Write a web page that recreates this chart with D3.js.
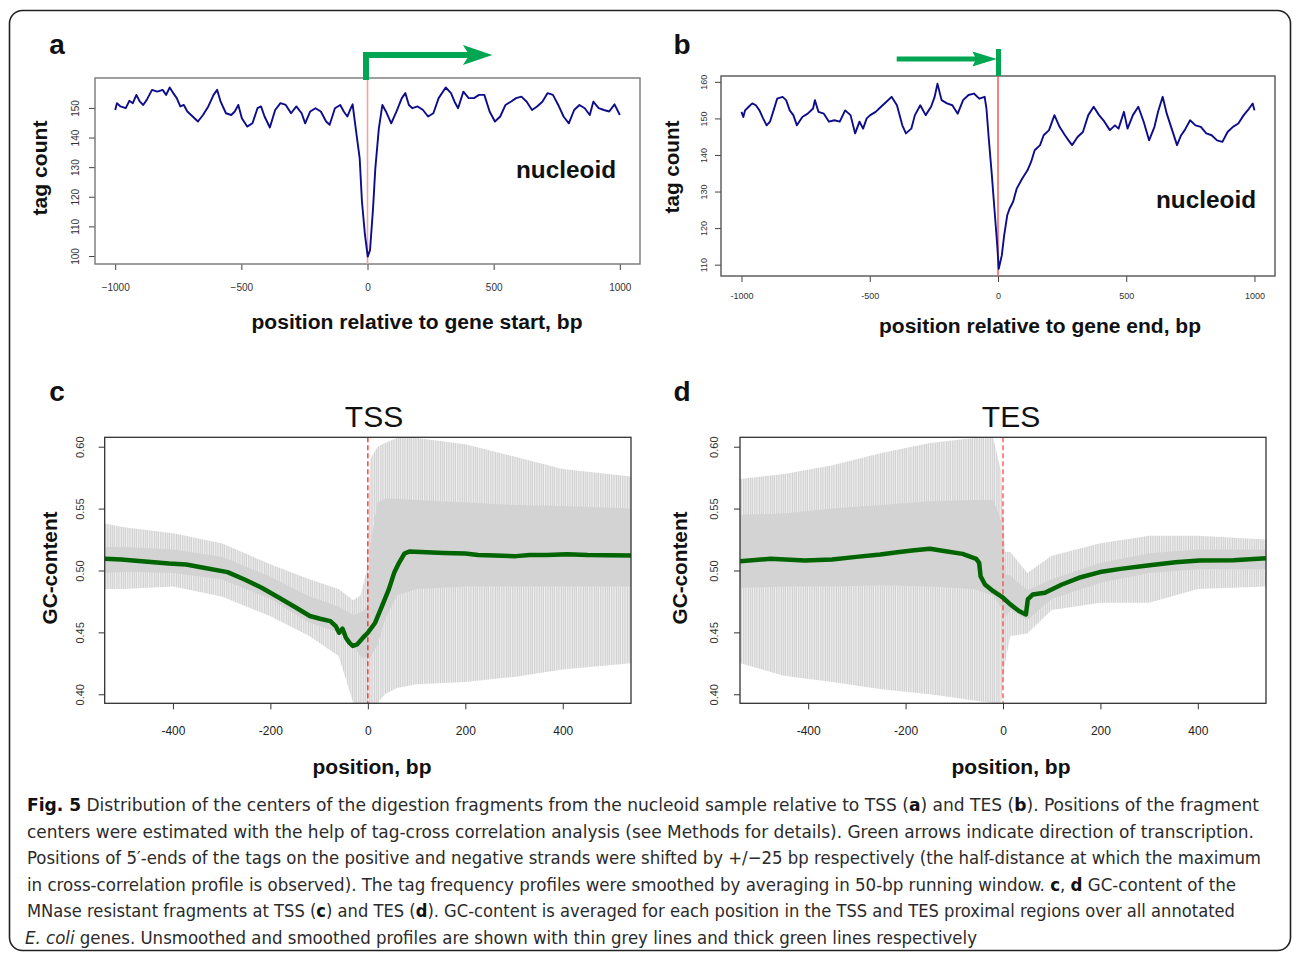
<!DOCTYPE html>
<html>
<head>
<meta charset="utf-8">
<script src="https://cdn.jsdelivr.net/npm/d3@7"></script>
<style>
  body { margin: 0; background: #fff; }
  text { font-family: "Liberation Sans", Arial, Helvetica, sans-serif; }
</style>
</head>
<body>
<div id="fig"></div>
<script>
// ---- data ----
// panel a: tag count around gene start
var posA = [-1000,-993,-979,-958,-944,-930,-916,-902,-889,-875,
  -854,-833,-812,-798,-784,-770,-756,-742,-728,-714,
  -693,-672,-652,-631,-610,-596,-582,-561,-540,-526,
  -512,-498,-477,-456,-436,-422,-408,-387,-366,-345,
  -324,-303,-282,-261,-247,-227,-206,-185,-164,-150,
  -129,-108,-94,-80,-66,-59,-45,-31,-22,-10,
  1,10,22,31,45,59,73,94,115,136,
  150,164,178,199,220,240,261,282,310,331,
  345,359,380,401,422,442,463,484,505,526,
  547,568,589,610,631,652,672,693,714,735,
  756,777,798,819,840,861,881,895,916,937,
  958,979,1000];
var tagA = [149.3,151.6,150.5,149.9,152.4,151.6,154.4,152.1,151.0,152.7,
  156.1,155.5,156.1,154.4,156.9,155.0,153.3,150.5,151.0,148.8,
  147.1,145.4,147.6,150.5,154.4,156.1,152.1,148.2,147.6,148.8,
  151.0,146.5,143.7,144.8,149.9,150.5,147.1,143.4,149.3,151.6,
  151.0,148.2,150.5,148.2,144.8,148.8,149.9,148.8,145.4,144.3,
  149.9,151.0,148.8,147.1,149.9,151.2,142.0,133.0,118.4,107.1,
  99.8,102.0,116.1,129.6,143.1,151.0,148.8,144.8,148.8,153.3,
  155.0,151.0,149.9,150.5,149.3,147.1,148.2,153.3,156.9,155.0,
  152.1,149.9,155.5,153.3,153.3,154.4,154.4,148.8,145.4,147.1,
  151.0,152.1,153.3,153.8,152.1,149.3,150.5,152.1,155.0,154.4,
  151.0,147.1,144.8,149.3,151.0,149.9,147.6,152.1,149.9,149.3,
  148.8,151.2,147.6];

// panel b: tag count around gene end
var posB = [-1000,-993,-986,-972,-958,-944,-930,-916,-902,-889,
  -875,-861,-840,-826,-812,-798,-784,-763,-742,-721,
  -714,-700,-679,-659,-638,-617,-596,-575,-557,-540,
  -526,-512,-498,-477,-456,-436,-415,-394,-373,-359,
  -338,-324,-303,-282,-261,-247,-236,-220,-199,-178,
  -157,-136,-115,-94,-73,-52,-45,-36,-24,-13,
  -3,3,15,24,36,45,59,73,94,115,
  129,143,164,178,199,220,240,261,275,289,
  310,331,352,373,394,415,436,456,470,491,
  505,526,547,568,589,610,624,642,658,679,
  698,714,728,749,770,791,812,833,854,875,
  895,916,937,958,979,993,1000];
var tagB = [151.8,150.4,152.2,153.2,154.1,153.6,152.2,150.0,148.1,149.1,
  152.2,155.4,155.9,155.0,152.2,150.9,148.1,150.4,151.3,152.7,
  155.0,151.8,151.3,149.1,149.5,149.1,152.2,150.9,145.9,149.1,
  147.2,150.0,150.9,151.8,153.2,154.5,155.9,153.6,148.1,145.9,
  147.2,150.9,153.6,150.9,153.2,155.9,159.5,155.0,154.1,153.6,
  151.3,155.0,156.4,156.8,155.4,155.9,152.7,144.5,134.5,124.4,
  115.3,108.9,112.6,118.0,123.5,125.3,127.2,130.8,133.5,135.8,
  138.1,141.3,142.7,145.4,146.8,150.9,147.7,145.4,144.0,142.7,
  144.9,146.3,150.9,153.2,150.9,149.1,146.8,148.1,147.2,151.8,
  147.2,150.9,153.2,149.1,144.0,147.7,151.8,155.9,151.3,146.8,
  142.7,145.4,146.8,149.5,148.1,147.7,145.9,145.4,144.0,143.6,
  146.3,147.7,148.6,150.9,152.7,154.1,152.2];

// panel c: GC-content at TSS (smoothed)
var posC = [-540,-506,-464,-408,-373,-337,-288,-253,-218,-182,
  -147,-119,-98,-77,-66,-59,-52,-45,-38,-31,
  -22,-10,0,15,29,43,54,64,75,85,
  120,156,200,226,261,304,332,367,409,451,
  494,540];
var gcC = [0.5094,0.5089,0.5075,0.5056,0.5048,0.5022,0.4987,0.4927,0.4860,0.4780,
  0.4699,0.4632,0.4610,0.4591,0.4551,0.4497,0.4530,0.4457,0.4417,0.4390,
  0.4403,0.4457,0.4497,0.4578,0.4712,0.4847,0.4981,0.5062,0.5137,0.5153,
  0.5148,0.5142,0.5137,0.5126,0.5121,0.5116,0.5126,0.5126,0.5132,0.5126,
  0.5124,0.5121];
// panel c: range of the unsmoothed profile (spike extent and dense core)
var greyPosC    = [-540,-500,-400,-300,-200,-120,-60,-30,-15,-2,5,20,35,60,100,200,300,400,540];
var spikeHiC    = [0.538,0.535,0.530,0.522,0.505,0.493,0.485,0.476,0.480,0.500,0.590,0.600,0.603,0.607,0.607,0.602,0.592,0.582,0.576];
var coreHiC     = [0.519,0.519,0.517,0.511,0.495,0.479,0.471,0.464,0.466,0.470,0.520,0.555,0.558,0.558,0.557,0.555,0.553,0.552,0.550];
var coreLoC     = [0.498,0.499,0.498,0.493,0.477,0.458,0.450,0.440,0.430,0.430,0.430,0.440,0.460,0.480,0.485,0.487,0.487,0.487,0.487];
var spikeLoC    = [0.485,0.485,0.487,0.479,0.463,0.447,0.431,0.393,0.393,0.393,0.393,0.393,0.400,0.405,0.408,0.410,0.414,0.420,0.425];

// panel d: GC-content at TES (smoothed)
var posD = [-540,-477,-407,-351,-301,-252,-217,-182,-150,-118,
  -83,-55,-49,-46,-37,-20,0,15,33,47,
  51,61,86,121,156,199,241,297,354,403,
  473,540];
var gcD = [0.5075,0.5094,0.5081,0.5089,0.5110,0.5129,0.5148,0.5164,0.5175,0.5156,
  0.5134,0.5094,0.5062,0.4954,0.4887,0.4833,0.4780,0.4726,0.4672,0.4645,
  0.4766,0.4806,0.4820,0.4887,0.4941,0.4987,0.5013,0.5040,0.5067,0.5081,
  0.5083,0.5099];
var greyPosD    = [-540,-450,-350,-250,-150,-60,-20,-4,4,15,50,100,200,300,400,540];
var spikeHiD    = [0.574,0.578,0.585,0.595,0.603,0.607,0.607,0.580,0.515,0.515,0.498,0.512,0.522,0.528,0.528,0.525];
var coreHiD     = [0.545,0.546,0.550,0.553,0.556,0.557,0.557,0.540,0.497,0.496,0.484,0.493,0.506,0.514,0.517,0.517];
var coreLoD     = [0.486,0.487,0.487,0.488,0.487,0.485,0.480,0.470,0.462,0.468,0.460,0.477,0.490,0.498,0.501,0.501];
var spikeLoD    = [0.425,0.415,0.410,0.404,0.400,0.395,0.393,0.393,0.425,0.447,0.449,0.468,0.474,0.474,0.485,0.487];

// ticks
var tagTicksX = [-1000, -500, 0, 500, 1000];
var tagTicksYA = [100, 110, 120, 130, 140, 150];
var tagTicksYB = [110, 120, 130, 140, 150, 160];
var gcTicksX = [-400, -200, 0, 200, 400];
var gcTicksY = [0.40, 0.45, 0.50, 0.55, 0.60];

// green transcription arrows, in bp
var arrowA = { tip: 495, back: 378, notch: 404 };
var arrowB = { start: -395, tip: -4, back: -100, notch: -85 };

// caption, one entry per printed line: [text, style]
var caption = [
  [["Fig. 5", "b"], [" Distribution of the centers of the digestion fragments from the nucleoid sample relative to TSS (", ""], ["a", "b"], [") and TES (", ""], ["b", "b"], ["). Positions of the fragment", ""]],
  [["centers were estimated with the help of tag-cross correlation analysis (see Methods for details). Green arrows indicate direction of transcription.", ""]],
  [["Positions of 5\u2032-ends of the tags on the positive and negative strands were shifted by +/\u221225 bp respectively (the half-distance at which the maximum", ""]],
  [["in cross-correlation profile is observed). The tag frequency profiles were smoothed by averaging in 50-bp running window. ", ""], ["c", "b"], [", ", ""], ["d", "b"], [" GC-content of the", ""]],
  [["MNase resistant fragments at TSS (", ""], ["c", "b"], [") and TES (", ""], ["d", "b"], ["). GC-content is averaged for each position in the TSS and TES proximal regions over all annotated", ""]],
  [["E. coli", "i"], [" genes. Unsmoothed and smoothed profiles are shown with thin grey lines and thick green lines respectively", ""]]
];
var captionWidths = [1232, 1227, 1234, 1209, 1208, 952];

var svg = d3.select("#fig").append("svg")
  .attr("width", 1293)
  .attr("height", 956);

svg.append("rect")
  .attr("x", 0).attr("y", 0).attr("width", 1293).attr("height", 956)
  .attr("fill", "#fff");

// thin vertical strokes used for the sparse part of the unsmoothed profiles
var pat = svg.append("defs").append("pattern")
  .attr("id", "greyStrokes")
  .attr("patternUnits", "userSpaceOnUse")
  .attr("width", 11).attr("height", 40);
[[0, 1.5], [2.1, 1.2], [3.6, 1.6], [5.8, 1.1], [7.4, 1.4], [9.3, 1.2]].forEach(function(s) {
  pat.append("rect")
    .attr("x", s[0]).attr("y", 0)
    .attr("width", s[1]).attr("height", 40)
    .attr("fill", "#d2d2d2");
});

// rounded outer frame
svg.append("rect")
  .attr("x", 9.5).attr("y", 10.5)
  .attr("width", 1281).attr("height", 940)
  .attr("rx", 13)
  .attr("fill", "none")
  .attr("stroke", "#222")
  .attr("stroke-width", 1.6);

function addText(x, y, txt, size, weight, opts) {
  opts = opts || {};
  var t = svg.append("text")
    .attr("x", x).attr("y", y)
    .attr("text-anchor", opts.anchor || "middle")
    .style("font-size", size + "px")
    .style("font-weight", weight)
    .attr("fill", opts.fill || "#111")
    .text(txt);
  if (opts.rotate) t.attr("transform", `rotate(-90, ${x}, ${y})`);
  if (opts.len) t.attr("textLength", opts.len).attr("lengthAdjust", "spacingAndGlyphs");
  return t;
}

// ---- tag count panels (a, b) ----
function drawTagPanel(o) {
  var x = d3.scaleLinear().domain([-1080, 1080]).range([o.x0, o.x1]);
  var y = d3.scaleLinear().domain(o.yDomain).range([o.y1, o.y0]);
  var g = svg.append("g");

  var xAxis = g.append("g")
    .attr("transform", `translate(0, ${o.y1})`)
    .call(d3.axisBottom(x).tickValues(tagTicksX).tickSize(6).tickPadding(o.xPad)
      .tickFormat(d => o.minus ? d3.format("")(d) : String(d)));
  xAxis.select(".domain").remove();
  xAxis.selectAll("line").attr("stroke", "#444");
  xAxis.selectAll("text").style("font-size", o.tickFont + "px").attr("fill", "#333");

  var yAxis = g.append("g")
    .attr("transform", `translate(${o.x0}, 0)`)
    .call(d3.axisLeft(y).tickValues(o.yTicks).tickSize(6));
  yAxis.select(".domain").remove();
  yAxis.selectAll("line").attr("stroke", "#444");
  yAxis.selectAll("text")
    .attr("x", null).attr("dy", null)
    .attr("text-anchor", "middle")
    .attr("transform", `translate(${-o.yLabOff}, 0) rotate(-90)`)
    .style("font-size", o.tickFont + "px")
    .attr("fill", "#333");

  g.append("rect")
    .attr("x", o.x0).attr("y", o.y0)
    .attr("width", o.x1 - o.x0).attr("height", o.y1 - o.y0)
    .attr("fill", "none")
    .attr("stroke", o.boxColor)
    .attr("stroke-width", 1.4);

  // position 0 marker
  g.append("line")
    .attr("x1", x(0)).attr("x2", x(0))
    .attr("y1", o.y0).attr("y2", o.y1)
    .attr("stroke", o.redColor)
    .attr("stroke-width", 1.6);

  var line = d3.line()
    .x((d, i) => x(o.pos[i]))
    .y(d => y(d));
  g.append("path")
    .datum(o.vals)
    .attr("d", line)
    .attr("fill", "none")
    .attr("stroke", "#0d0d8c")
    .attr("stroke-width", 1.9)
    .attr("stroke-linejoin", "round");

  return x;
}

var xA = drawTagPanel({
  pos: posA, vals: tagA,
  x0: 95, x1: 640, y0: 78, y1: 264,
  yDomain: [97.3, 160.1], yTicks: tagTicksYA,
  xPad: 14, yLabOff: 16.5, tickFont: 10, minus: true,
  boxColor: "#777", redColor: "#f4a2a2"
});

var xB = drawTagPanel({
  pos: posB, vals: tagB,
  x0: 721, x1: 1275, y0: 76, y1: 276,
  yDomain: [106.9, 161.6], yTicks: tagTicksYB,
  xPad: 11, yLabOff: 14.5, tickFont: 9, minus: false,
  boxColor: "#555", redColor: "#f26464"
});

// arrow a: bent arrow starting at the gene start
var green = "#00a651";
svg.append("path")
  .attr("d", `M${xA(0) - 1.5},80 V55 H${xA(arrowA.notch) + 2}`)
  .attr("fill", "none")
  .attr("stroke", green)
  .attr("stroke-width", 6);
svg.append("path")
  .attr("d", `M${xA(arrowA.tip)},55 L${xA(arrowA.back)},45 L${xA(arrowA.notch)},55 L${xA(arrowA.back)},65 Z`)
  .attr("fill", green);

// arrow b: arrow hitting a stop bar at the gene end
svg.append("path")
  .attr("d", `M${xB(arrowB.start)},59 H${xB(arrowB.notch) + 2}`)
  .attr("fill", "none")
  .attr("stroke", green)
  .attr("stroke-width", 5);
svg.append("path")
  .attr("d", `M${xB(arrowB.tip)},59 L${xB(arrowB.back)},51.5 L${xB(arrowB.notch)},59 L${xB(arrowB.back)},66.5 Z`)
  .attr("fill", green);
svg.append("line")
  .attr("x1", xB(0) + 0.5).attr("x2", xB(0) + 0.5)
  .attr("y1", 49).attr("y2", 76)
  .attr("stroke", green)
  .attr("stroke-width", 5);

// ---- GC-content panels (c, d) ----
function drawGcPanel(o) {
  var x = d3.scaleLinear().domain([-540, 540]).range([o.x0, o.x1]);
  var y = d3.scaleLinear().domain([0.3927, 0.6076]).range([703.3, 437.3]);
  var g = svg.append("g");

  g.append("clipPath").attr("id", o.id)
    .append("rect")
    .attr("x", o.x0).attr("y", 437.3)
    .attr("width", o.x1 - o.x0).attr("height", 266);

  var inner = g.append("g").attr("clip-path", `url(#${o.id})`);

  var spikes = d3.area()
    .x((d, i) => x(o.gPos[i]))
    .y0((d, i) => y(o.sLo[i]))
    .y1(d => y(d));
  inner.append("path")
    .datum(o.sHi)
    .attr("d", spikes)
    .attr("fill", "url(#greyStrokes)");

  var core = d3.area()
    .x((d, i) => x(o.gPos[i]))
    .y0((d, i) => y(o.cLo[i]))
    .y1(d => y(d));
  inner.append("path")
    .datum(o.cHi)
    .attr("d", core)
    .attr("fill", "#d3d3d3");

  inner.append("line")
    .attr("x1", x(0)).attr("x2", x(0))
    .attr("y1", 437.3).attr("y2", 703.3)
    .attr("stroke", o.redColor)
    .attr("stroke-width", 1.3)
    .attr("stroke-dasharray", "5,3");

  var line = d3.line()
    .x((d, i) => x(o.pos[i]))
    .y(d => y(d));
  inner.append("path")
    .datum(o.vals)
    .attr("d", line)
    .attr("fill", "none")
    .attr("stroke", "#006400")
    .attr("stroke-width", 4.5)
    .attr("stroke-linejoin", "round");

  g.append("rect")
    .attr("x", o.x0).attr("y", 437.3)
    .attr("width", o.x1 - o.x0).attr("height", 266)
    .attr("fill", "none")
    .attr("stroke", "#333")
    .attr("stroke-width", 1.3);

  var xAxis = g.append("g")
    .attr("transform", "translate(0, 703.3)")
    .call(d3.axisBottom(x).tickValues(gcTicksX).tickSize(6).tickPadding(17)
      .tickFormat(d => String(d)));
  xAxis.select(".domain").remove();
  xAxis.selectAll("line").attr("stroke", "#333");
  xAxis.selectAll("text").style("font-size", "12px").attr("fill", "#222");

  var yAxis = g.append("g")
    .attr("transform", `translate(${o.x0}, 0)`)
    .call(d3.axisLeft(y).tickValues(gcTicksY).tickSize(6).tickFormat(d3.format(".2f")));
  yAxis.select(".domain").remove();
  yAxis.selectAll("line").attr("stroke", "#333");
  yAxis.selectAll("text")
    .attr("x", null).attr("dy", null)
    .attr("text-anchor", "middle")
    .attr("transform", `translate(${-o.yLabOff}, 0) rotate(-90)`)
    .style("font-size", "11px")
    .attr("fill", "#333");
}

drawGcPanel({
  id: "clipC", pos: posC, vals: gcC,
  gPos: greyPosC, sHi: spikeHiC, cHi: coreHiC, cLo: coreLoC, sLo: spikeLoC,
  x0: 104.7, x1: 631, yLabOff: 21, redColor: "#ff2020"
});
drawGcPanel({
  id: "clipD", pos: posD, vals: gcD,
  gPos: greyPosD, sHi: spikeHiD, cHi: coreHiD, cLo: coreLoD, sLo: spikeLoD,
  x0: 740, x1: 1266, yLabOff: 22, redColor: "#ff4a4a"
});

// ---- labels ----
addText(57, 54, "a", 28, "bold");
addText(682, 54, "b", 28, "bold");
addText(57, 401, "c", 28, "bold");
addText(682, 401, "d", 28, "bold");

addText(417, 329, "position relative to gene start, bp", 20, "bold", { len: 331 });
addText(1040, 333, "position relative to gene end, bp", 20, "bold", { len: 322 });
addText(47, 168, "tag count", 20, "bold", { rotate: true, len: 95 });
addText(679, 167, "tag count", 20, "bold", { rotate: true, len: 93 });
addText(566, 178, "nucleoid", 24, "bold", { len: 100 });
addText(1206, 208, "nucleoid", 24, "bold", { len: 100 });

addText(374, 427, "TSS", 30, "normal");
addText(1011, 427, "TES", 30, "normal");
addText(372, 774, "position, bp", 20, "bold", { len: 119 });
addText(1011, 774, "position, bp", 20, "bold", { len: 119 });
addText(57, 568, "GC-content", 20, "bold", { rotate: true, len: 113 });
addText(687, 568, "GC-content", 20, "bold", { rotate: true, len: 113 });

// ---- caption ----
caption.forEach(function(segs, i) {
  var t = svg.append("text")
    .attr("x", i === 5 ? 25 : 27)
    .attr("y", 811 + i * 26.6)
    .style("font-family", "'Liberation Sans Narrow', 'DejaVu Sans Condensed', 'Liberation Sans', sans-serif")
    .style("font-size", "18.5px")
    .attr("fill", "#2b2b2b")
    .attr("textLength", captionWidths[i])
    .attr("lengthAdjust", "spacingAndGlyphs");
  segs.forEach(function(s) {
    t.append("tspan")
      .style("font-weight", s[1] === "b" ? "bold" : "normal")
      .style("font-style", s[1] === "i" ? "italic" : "normal")
      .attr("fill", s[1] === "b" ? "#111" : null)
      .text(s[0]);
  });
});
</script>
</body>
</html>
